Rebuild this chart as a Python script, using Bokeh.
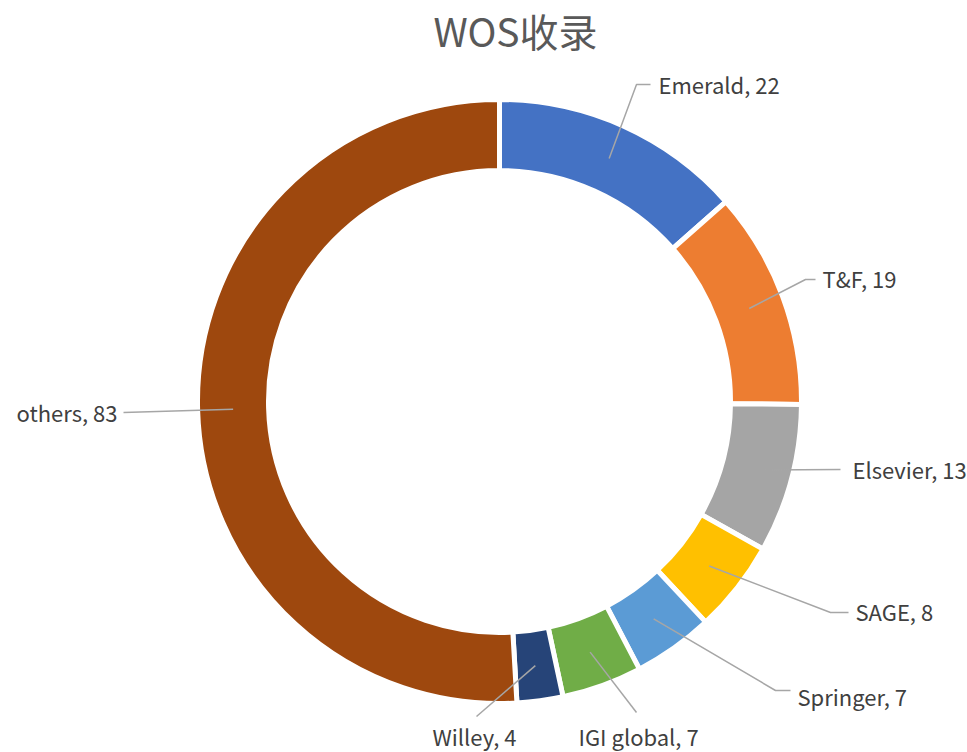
import math
from bokeh.plotting import figure
from bokeh.models import Range1d, ColumnDataSource
from bokeh.core.properties import value
from bokeh.embed import file_html
from bokeh.resources import INLINE

# ---- data ----
names = ["Emerald", "T&F", "Elsevier", "SAGE", "Springer", "IGI global", "Willey", "others"]
counts = [22, 19, 13, 8, 7, 7, 4, 83]
colors = ["#4472C4", "#ED7D31", "#A5A5A5", "#FFC000", "#5B9BD5", "#70AD47", "#264478", "#9E480E"]
title_text = "WOS收录"

# ---- layout (pixel coordinates, y downwards) ----
W, H = 967, 752
CX, CY = 499, 401
R_OUT, R_IN = 302, 231
# label text positions and alignment
label_pos = [(658, 83, "left"), (822, 277, "left"), (852, 468, "left"), (855, 610, "left"),
             (797, 695, "left"), (578, 735, "left"), (432, 735, "left"), (117, 411, "right")]
# leader line bend / end points
leader_pts = [[(636, 84), (650, 84)], [(805, 279), (815, 279)], [(840, 469)],
              [(830, 612), (848, 612)], [(775, 690), (790, 690)], [(636, 712)],
              [(476, 716)], [(123, 412)]]

def fy(y):
    return H - y

total = sum(counts)
starts, ends, mids = [], [], []
acc = 0.0
for c in counts:
    a0 = acc / total * 2 * math.pi
    acc += c
    a1 = acc / total * 2 * math.pi
    # clockwise from top -> bokeh anticlockwise from +x
    starts.append(math.pi / 2 - a1)
    ends.append(math.pi / 2 - a0)
    mids.append((a0 + a1) / 2)

p = figure(width=W, height=H, output_backend="svg", toolbar_location=None,
           x_range=Range1d(0, W), y_range=Range1d(0, H), min_border=0)
p.axis.visible = False
p.grid.visible = False
p.outline_line_color = None
p.background_fill_color = "white"
p.border_fill_color = "white"

src = ColumnDataSource(dict(start=starts, end=ends, color=colors, name=names, count=counts))
p.annular_wedge(x=CX, y=fy(CY), inner_radius=R_IN, outer_radius=R_OUT,
                start_angle="start", end_angle="end", fill_color="color",
                line_color="white", line_width=5, source=src)

# leader lines
R_MID = (R_IN + R_OUT) / 2
xs, ys = [], []
for m, pts in zip(mids, leader_pts):
    ax = CX + R_MID * math.sin(m)
    ay = CY - R_MID * math.cos(m)
    lx = [ax] + [q[0] for q in pts]
    ly = [fy(ay)] + [fy(q[1]) for q in pts]
    xs.append(lx)
    ys.append(ly)
p.multi_line(xs=xs, ys=ys, line_color="#A6A6A6", line_width=1.5)

# labels
for (n, c), (lx, ly, al) in zip(zip(names, counts), label_pos):
    p.text(x=[lx], y=[fy(ly)], text=[f"{n}, {c}"], text_align=al, text_baseline="middle",
           text_font=value("Noto Sans CJK SC"), text_font_size="22px", text_color="#404040")

p.text(x=[515], y=[fy(29)], text=[title_text], text_align="center", text_baseline="middle",
       text_font=value("Noto Sans CJK SC"), text_font_size="39px", text_color="#595959")

open("out.html", "w").write(file_html(p, INLINE))
